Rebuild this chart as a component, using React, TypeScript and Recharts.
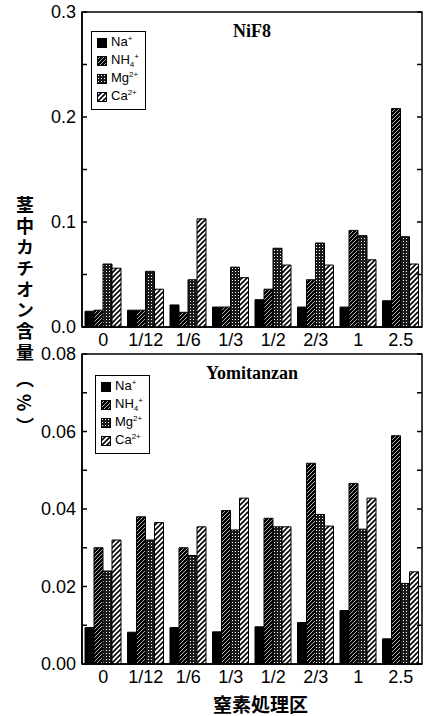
import { BarChart, Bar, XAxis, YAxis, Legend, ReferenceArea } from 'recharts'

// 窒素処理区 (x categories)
const groups = ['0', '1/12', '1/6', '1/3', '1/2', '2/3', '1', '2.5']

// NiF8 panel (%)
const nif8Na = [0.015, 0.016, 0.021, 0.019, 0.026, 0.019, 0.019, 0.025]
const nif8NH4 = [0.016, 0.016, 0.014, 0.019, 0.036, 0.045, 0.092, 0.208]
const nif8Mg = [0.06, 0.053, 0.045, 0.057, 0.075, 0.08, 0.087, 0.086]
const nif8Ca = [0.056, 0.036, 0.103, 0.047, 0.059, 0.059, 0.064, 0.06]

// Yomitanzan panel (%)
const yomiNa = [0.0094, 0.0082, 0.0094, 0.0083, 0.0096, 0.0107, 0.0138, 0.0065]
const yomiNH4 = [0.03, 0.038, 0.03, 0.0396, 0.0376, 0.0518, 0.0466, 0.0589]
const yomiMg = [0.024, 0.032, 0.028, 0.0346, 0.0354, 0.0386, 0.0348, 0.0208]
const yomiCa = [0.032, 0.0365, 0.0354, 0.0428, 0.0354, 0.0356, 0.0428, 0.0238]

const nif8Ticks = [0, 0.05, 0.1, 0.15, 0.2, 0.25, 0.3]
const nif8Labels = [0, 0.1, 0.2, 0.3]
const yomiTicks = [0, 0.01, 0.02, 0.03, 0.04, 0.05, 0.06, 0.07, 0.08]
const yomiLabels = [0, 0.02, 0.04, 0.06, 0.08]

const PLOT_RIGHT = 422
const SANS = '"Liberation Sans", Arial, sans-serif'
const SERIF = '"Liberation Serif", "Times New Roman", serif'
const CJK = '"Noto Sans CJK JP", sans-serif'

const series = [
  { key: 'na', fill: '#000', label: 'Na', sub: '', sup: '+' },
  { key: 'nh4', fill: 'url(#pNH4)', label: 'NH', sub: '4', sup: '+' },
  { key: 'mg', fill: 'url(#pMg)', label: 'Mg', sub: '', sup: '2+' },
  { key: 'ca', fill: 'url(#pCa)', label: 'Ca', sub: '', sup: '2+' },
]

function makeRows(na: number[], nh4: number[], mg: number[], ca: number[]) {
  return groups.map((g, i) => ({ g, na: na[i], nh4: nh4[i], mg: mg[i], ca: ca[i] }))
}

// eslint-disable-next-line @typescript-eslint/no-explicit-any
function YTick({ x, y, payload, labels, digits }: any) {
  const v = payload.value
  const show = labels.some((l: number) => Math.abs(l - v) < 1e-9)
  const ax = x + 6
  return (
    <g>
      <line x1={ax} x2={ax + 5} y1={y} y2={y} stroke="#000" strokeWidth={1.5} />
      <line x1={PLOT_RIGHT - 5} x2={PLOT_RIGHT} y1={y} y2={y} stroke="#000" strokeWidth={1.5} />
      {show && (
        <text x={x} y={y} textAnchor="end" dominantBaseline="central" fontFamily={SANS} fontSize={18} fill="#000">
          {v.toFixed(digits)}
        </text>
      )}
    </g>
  )
}

function LegendBox() {
  return (
    <div
      style={{
        border: '1.5px solid #000',
        background: '#fff',
        padding: '2px 6px 3px 5px',
        fontFamily: SANS,
        fontSize: 13,
        lineHeight: '18px',
        color: '#000',
      }}
    >
      {series.map((s) => (
        <div key={s.key} style={{ display: 'flex', alignItems: 'center', height: 18 }}>
          <svg width={10} height={10} style={{ marginRight: 4 }}>
            <rect x={0.5} y={0.5} width={9} height={9} fill={s.fill} stroke="#000" strokeWidth={1} />
          </svg>
          <span>
            {s.label}
            {s.sub && <span style={{ fontSize: 8, position: 'relative', top: 3 }}>{s.sub}</span>}
            <span style={{ fontSize: 8, position: 'relative', top: -5 }}>{s.sup}</span>
          </span>
        </div>
      ))}
    </div>
  )
}

// eslint-disable-next-line @typescript-eslint/no-explicit-any
function Panel({ data, ticks, labels, digits, max, title, height, margin, legendTop, legendLeft }: any) {
  return (
    <BarChart width={431} height={height} data={data} margin={margin} barGap={0} barSize={9}>
      <XAxis
        dataKey="g"
        height={30}
        tickLine={false}
        tickSize={0}
        tickMargin={6}
        axisLine={{ stroke: '#000', strokeWidth: 1.5 }}
        tick={{ fill: '#000', fontSize: 18, fontFamily: SANS }}
        interval={0}
      />
      <YAxis
        width={60}
        domain={[0, max]}
        ticks={ticks}
        interval={0}
        tickLine={false}
        tickSize={0}
        tickMargin={6}
        axisLine={{ stroke: '#000', strokeWidth: 1.5 }}
        tick={<YTick labels={labels} digits={digits} />}
      />
      <Legend
        layout="vertical"
        align="center"
        verticalAlign="middle"
        wrapperStyle={{ left: legendLeft, top: legendTop, width: 'auto' }}
        content={() => <LegendBox />}
      />
      <ReferenceArea
        y1={0}
        y2={max}
        fill="none"
        stroke="#000"
        strokeWidth={1.5}
        ifOverflow="visible"
        label={{
          value: title,
          position: 'insideTop',
          offset: 12,
          fill: '#000',
          fontFamily: SERIF,
          fontWeight: 'bold',
          fontSize: 18,
        }}
      />
      {series.map((s) => (
        <Bar key={s.key} dataKey={s.key} fill={s.fill} stroke="#000" strokeWidth={1} isAnimationActive={false} />
      ))}
    </BarChart>
  )
}

export default function App() {
  return (
    <div style={{ position: 'absolute', left: 0, top: 0, width: 431, height: 716, background: '#fff' }}>
      <svg width={0} height={0} style={{ position: 'absolute' }}>
        <defs>
          <pattern id="pNH4" width={4} height={4} patternUnits="userSpaceOnUse">
            <rect width={4} height={4} fill="#000" />
            <path d="M-1,1 l2,-2 M0,4 l4,-4 M3,5 l2,-2" stroke="#fff" strokeWidth={0.7} />
          </pattern>
          <pattern id="pMg" width={3} height={3} patternUnits="userSpaceOnUse">
            <rect width={3} height={3} fill="#1a1a1a" />
            <rect x={1} y={1} width={1} height={1} fill="#fff" />
          </pattern>
          <pattern id="pCa" width={5} height={5} patternUnits="userSpaceOnUse">
            <rect width={5} height={5} fill="#fff" />
            <path d="M-1,1 l2,-2 M0,5 l5,-5 M4,6 l2,-2" stroke="#000" strokeWidth={1.6} />
          </pattern>
        </defs>
      </svg>

      <div style={{ position: 'absolute', left: 0, top: 0 }}>
        <Panel
          data={makeRows(nif8Na, nif8NH4, nif8Mg, nif8Ca)}
          ticks={nif8Ticks}
          labels={nif8Labels}
          digits={1}
          max={0.3}
          title="NiF8"
          height={360}
          margin={{ top: 12, right: 9, left: 22, bottom: 3 }}
          legendLeft={91}
          legendTop={31}
        />
      </div>

      <div style={{ position: 'absolute', left: 0, top: 340 }}>
        <Panel
          data={makeRows(yomiNa, yomiNH4, yomiMg, yomiCa)}
          ticks={yomiTicks}
          labels={yomiLabels}
          digits={2}
          max={0.08}
          title="Yomitanzan"
          height={376}
          margin={{ top: 14, right: 9, left: 22, bottom: 22 }}
          legendLeft={95}
          legendTop={35}
        />
      </div>

      <div
        style={{
          position: 'absolute',
          left: 12,
          top: 196,
          writingMode: 'vertical-rl',
          fontFamily: CJK,
          fontWeight: 'bold',
          fontSize: 18,
          letterSpacing: 3,
          color: '#000',
        }}
      >
        茎中カチオン含量
        <span style={{ letterSpacing: 6, marginTop: 6, display: 'inline-block' }}>（%）</span>
      </div>

      <div
        style={{
          position: 'absolute',
          left: 0,
          width: 431,
          paddingLeft: 90,
          boxSizing: 'border-box',
          top: 693,
          textAlign: 'center',
          fontFamily: CJK,
          fontWeight: 'bold',
          fontSize: 19,
          lineHeight: '22px',
          color: '#000',
        }}
      >
        窒素処理区
      </div>
    </div>
  )
}
